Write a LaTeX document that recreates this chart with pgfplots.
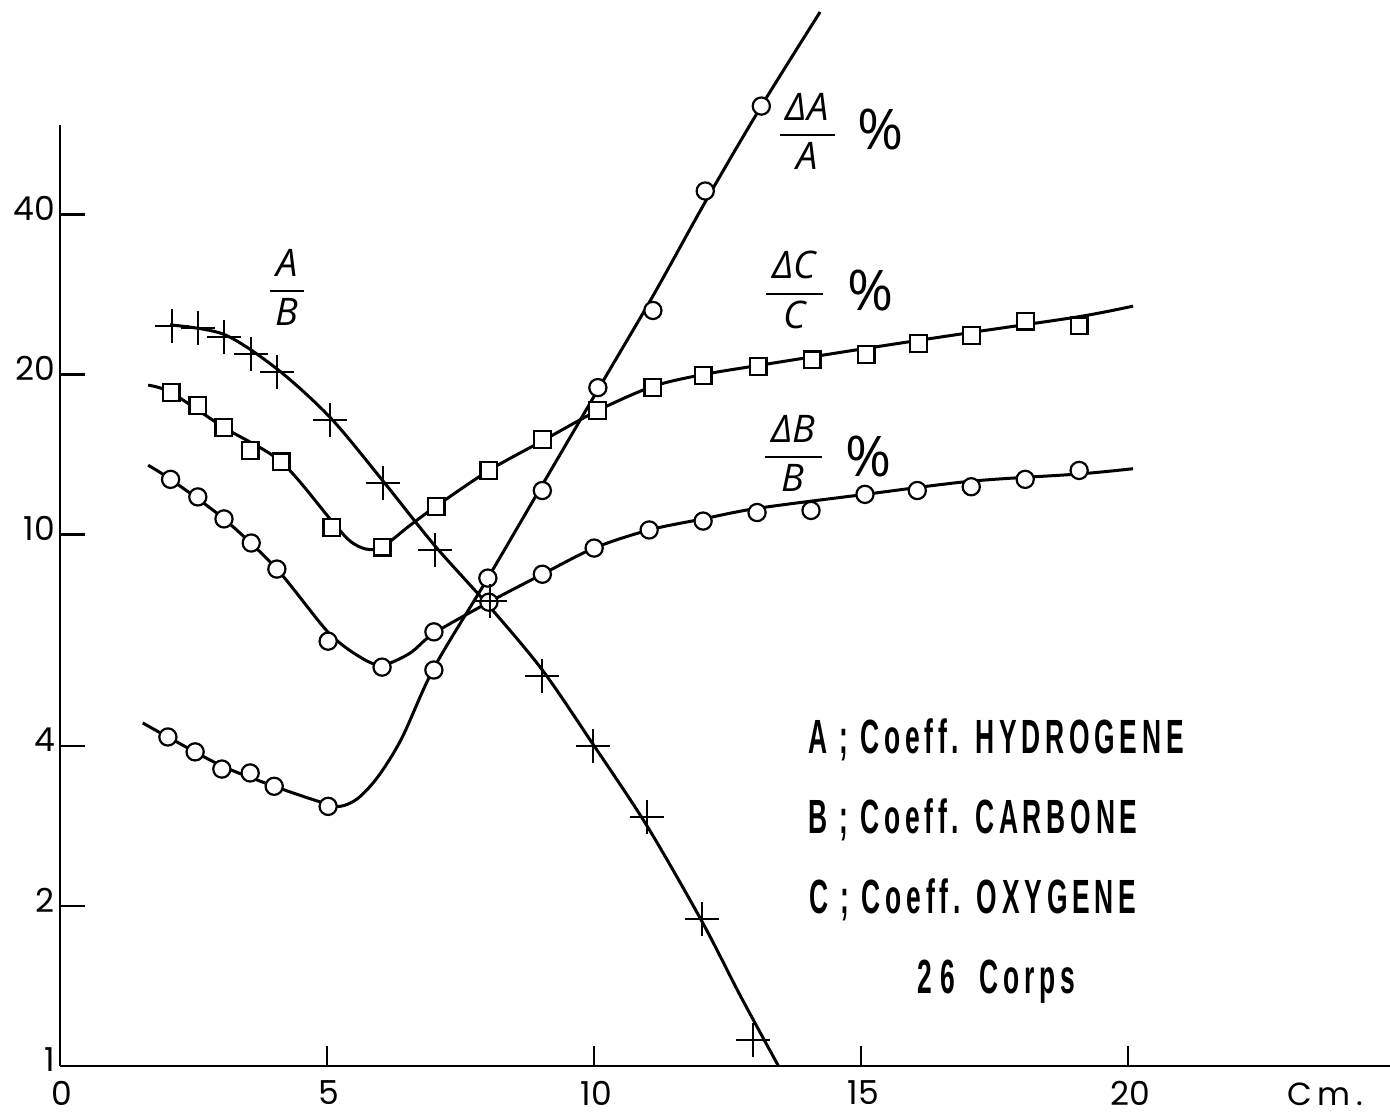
\documentclass[border=0pt]{standalone}
\usepackage{fontspec}
\usepackage{pgfplots}
\pgfplotsset{compat=1.18}
\setmainfont{Poppins}
\newfontfamily\legfont{Liberation Sans Bold}[FakeStretch=0.55,LetterSpace=10]
\newfontfamily\fracfont{Open Sans}
\newcommand\fr[2]{$\displaystyle{\mbox{\fracfont\itshape\,#1\,}\above 1pt\mbox{\fracfont\itshape #2}}$}
\begin{document}
\begin{tikzpicture}[x=1pt,y=1pt]
\path[use as bounding box] (-30,-25) rectangle (665,533);
\begin{axis}[
  at={(0,0)}, anchor=south west,
  scale only axis, width=665pt, height=470.5pt,
  xmin=0, xmax=24.9, ymode=log, ymin=1, ymax=58.96,
  axis x line=bottom, axis y line=left,
  axis line style={-, line width=1.4pt},
  clip=false,
  xtick={0,5,10,15,20}, xticklabels={0,5,10,15,20},
  ytick={1,2,4,10,20,40}, yticklabels={1,2,4,10,20,40},
  minor ytick={}, minor tick length=0pt,
  tick align=inside,
  tick style={line width=1.2pt, black},
  xtick style={/pgfplots/major tick length=10pt},
  ytick style={/pgfplots/major tick length=12.5pt},
  tick label style={font=\fontsize{16.5}{18}\selectfont},
  xticklabel style={yshift=-4pt, xshift=1pt},
  yticklabel style={xshift=1pt, yshift=3pt},
  /pgf/number format/assume math mode=true,
]
% curves
\addplot[line width=1.5pt, smooth, no marks] coordinates {
 (1.55,4.42) (2.02,4.16) (3.03,3.67) (4.01,3.36) (4.87,3.14) (5.24,3.08)
 (5.58,3.19) (5.96,3.51) (6.40,4.14) (7.0,5.61) (8.01,8.28) (9.03,12.4)
 (10.04,18.5) (11.1,28.1) (12.1,42.6) (13.13,64.0) (14.23,96.2)};
\addplot[line width=1.5pt, smooth, no marks] coordinates {
 (1.65,13.5) (2.07,12.7) (3.07,10.7) (4.06,8.61) (5.02,6.55) (5.62,5.88)
 (6.03,5.68) (6.55,5.98) (7.0,6.52) (8.03,7.46) (9.03,8.42) (10.0,9.43)
 (11.03,10.2) (12.04,10.7) (13.05,11.2) (15.07,11.9) (17.06,12.6) (19.08,13.0) (20.09,13.3)};
\addplot[line width=1.5pt, smooth, no marks] coordinates {
 (1.65,19.1) (2.08,18.5) (3.07,15.9) (4.14,13.7) (5.09,10.6) (5.43,9.72)
 (5.73,9.39) (6.03,9.47) (6.55,10.4) (7.04,11.3) (8.03,13.2) (9.03,15.0)
 (10.06,17.1) (11.1,19.0) (12.04,20.0) (13.07,20.8) (15.09,22.4) (17.06,24.0) (19.08,25.7) (20.09,26.9)};
\addplot[line width=1.5pt, smooth, no marks] coordinates {
 (2.06,24.8) (3.07,23.8) (4.06,20.5) (5.06,16.6) (6.05,12.6) (7.02,9.52)
 (8.05,7.30) (9.03,5.56) (9.98,4.03) (10.99,2.83) (12.02,1.87) (12.73,1.36) (13.45,1.0)};
% marks
\addplot[only marks, mark=*, mark size=4.3pt, mark options={fill=white, draw=black, line width=1.1pt}] coordinates {
 (2.02,4.16) (2.53,3.90) (3.03,3.62) (3.56,3.56) (4.01,3.36) (5.02,3.08)
 (7.0,5.56) (8.01,8.28) (9.03,12.1) (10.07,18.9) (11.1,26.4) (12.08,44.3) (13.13,64.0)};
\addplot[only marks, mark=*, mark size=4.3pt, mark options={fill=white, draw=black, line width=1.1pt}] coordinates {
 (2.07,12.7) (2.58,11.77) (3.07,10.7) (3.58,9.64) (4.06,8.61) (5.02,6.30)
 (6.03,5.63) (7.0,6.56) (8.03,7.46) (9.03,8.42) (10.0,9.43) (11.03,10.2)
 (12.04,10.6) (13.05,11.0) (14.06,11.1) (15.07,11.9) (16.05,12.1) (17.06,12.3) (18.07,12.7) (19.08,13.2)};
\addplot[only marks, mark=square*, mark size=4.2pt, mark options={fill=white, draw=black, line width=1.1pt}] coordinates {
 (2.08,18.5) (2.58,17.5) (3.07,15.9) (3.56,14.4) (4.14,13.7) (5.09,10.3)
 (6.03,9.47) (7.04,11.3) (8.03,13.2) (9.03,15.1) (10.06,17.1) (11.1,18.9)
 (12.04,19.9) (13.07,20.7) (14.08,21.3) (15.09,21.8) (16.07,22.9) (17.06,23.7) (18.07,25.2) (19.08,24.7)};
\addplot[only marks, mark=+, mark size=8.5pt, mark options={draw=black, line width=1.0pt}] coordinates {
 (2.10,24.7) (2.58,24.5) (3.07,23.5) (3.58,21.9) (4.06,20.2) (5.06,16.4)
 (6.05,12.5) (7.02,9.35) (8.05,7.49) (9.03,5.42) (9.98,4.00) (10.99,2.94) (12.02,1.89) (12.98,1.12)};
% labels
\node at (axis cs:4.25,29.2) {\fontsize{19}{21}\selectfont\fr{A}{B}};
\node at (axis cs:13.99,57.4) {\fontsize{19}{21}\selectfont\fr{ΔA}{A}};
\node at (axis cs:15.36,57.7) {\fracfont\fontsize{28}{30}\selectfont\%};
\node at (axis cs:13.75,28.84) {\fontsize{19}{21}\selectfont\fr{ΔC}{C}};
\node at (axis cs:15.17,28.84) {\fracfont\fontsize{28}{30}\selectfont\%};
\node at (axis cs:13.73,14.2) {\fontsize{19}{21}\selectfont\fr{ΔB}{B}};
\node at (axis cs:15.13,14.0) {\fracfont\fontsize{28}{30}\selectfont\%};
\node[anchor=west, inner sep=0pt] at (axis cs:14.0,4.105) {\legfont\fontsize{24}{26}\selectfont A ; Coeff. HYDROGENE};
\node[anchor=west, inner sep=0pt] at (axis cs:14.0,2.903) {\legfont\fontsize{24}{26}\selectfont B ; Coeff. CARBONE};
\node[anchor=west, inner sep=0pt] at (axis cs:14.03,2.053) {\legfont\fontsize{24}{26}\selectfont C ; Coeff. OXYGENE};
\node[inner sep=0pt] at (axis cs:17.53,1.439) {\legfont\fontsize{24}{26}\selectfont 2\,6 \ Corps};
\node[yshift=-14pt] at (axis cs:23.69,1) {\fontsize{16}{18}\selectfont C\,m\,.};
\end{axis}
\end{tikzpicture}
\end{document}
